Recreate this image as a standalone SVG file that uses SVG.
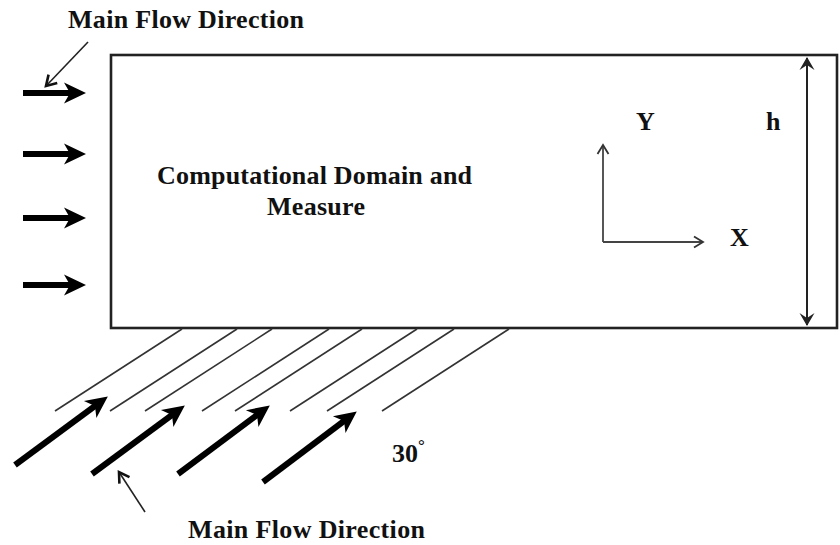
<svg xmlns="http://www.w3.org/2000/svg" width="840" height="545" viewBox="0 0 840 545">
<style>
text{font-family:"Liberation Serif","Times New Roman",serif;font-weight:bold;fill:#111}
.lbl{font-size:26px}
.thick{stroke:#000;stroke-width:6;fill:none}
.thin{stroke:#333;stroke-width:1.6;fill:none}
.ax{stroke:#444;stroke-width:1.8;fill:none}
</style>
<defs>
<marker id="mThick" markerUnits="userSpaceOnUse" viewBox="-14 -12 28 24" markerWidth="28" markerHeight="24" refX="0" refY="0" orient="auto" overflow="visible">
<path d="M11,0 L-11,-10.5 L-5,0 L-11,10.5 Z" fill="#000"/>
</marker>
<marker id="mOpen" markerUnits="userSpaceOnUse" viewBox="-12 -8 14 16" markerWidth="14" markerHeight="16" refX="0" refY="0" orient="auto" overflow="visible">
<path d="M-9,-5.5 L0,0 L-9,5.5" fill="none" stroke="#333" stroke-width="1.8"/>
</marker>
<marker id="mOpenBold" markerUnits="userSpaceOnUse" viewBox="-12 -8 14 16" markerWidth="14" markerHeight="16" refX="0" refY="0" orient="auto" overflow="visible">
<path d="M-10,-6 L0,0 L-10,6" fill="none" stroke="#111" stroke-width="2.6"/>
</marker>
<marker id="mDim" markerUnits="userSpaceOnUse" viewBox="-12 -9 14 18" markerWidth="14" markerHeight="18" refX="0" refY="0" orient="auto-start-reverse" overflow="visible">
<path d="M1,0 L-12,-7.5 L-7,0 L-12,7.5 Z" fill="#222"/>
</marker>
</defs>

<g id="domain">
<rect x="111" y="55" width="726" height="273" fill="#fff" stroke="#222" stroke-width="2.6"/>
<text class="lbl" x="157" y="184" textLength="315" lengthAdjust="spacing">Computational Domain and</text>
<text class="lbl" x="267" y="215" textLength="98" lengthAdjust="spacing">Measure</text>
</g>

<g id="axes">
<path class="ax" d="M603,242 L603,145" marker-end="url(#mOpen)"/>
<path class="ax" d="M603,242 L703,242" marker-end="url(#mOpen)"/>
<text class="lbl" x="636" y="130">Y</text>
<text class="lbl" x="730" y="246">X</text>
</g>

<g id="height-dim">
<path d="M807,58 L807,325" stroke="#222" stroke-width="2" fill="none" marker-start="url(#mDim)" marker-end="url(#mDim)"/>
<text class="lbl" x="766" y="130">h</text>
</g>

<g id="top-flow">
<text class="lbl" x="68" y="28" textLength="236" lengthAdjust="spacing">Main Flow Direction</text>
</g>

<g id="bottom-flow">
<text class="lbl" x="188" y="538" textLength="237" lengthAdjust="spacing">Main Flow Direction</text>
<text x="392" y="462" style="font-size:26px">30</text>
<text x="418" y="451" style="font-size:17px">°</text>
</g>

<g id="connectors">
<!-- left horizontal flow arrows -->
<path class="thick" d="M23,93 L75,93" marker-end="url(#mThick)"/>
<path class="thick" d="M23,154 L75,154" marker-end="url(#mThick)"/>
<path class="thick" d="M23,218 L75,218" marker-end="url(#mThick)"/>
<path class="thick" d="M23,285 L75,285" marker-end="url(#mThick)"/>
<!-- top pointer -->
<path d="M88,42 L46,86" stroke="#222" stroke-width="1.6" fill="none" marker-end="url(#mOpenBold)"/>
<!-- slanted thin lines -->
<path class="thin" d="M55,411 L182,329"/>
<path class="thin" d="M110,411 L237,329"/>
<path class="thin" d="M145,411 L272,329"/>
<path class="thin" d="M202,411 L329,329"/>
<path class="thin" d="M235,411 L362,329"/>
<path class="thin" d="M290,411 L417,329"/>
<path class="thin" d="M327,411 L454,329"/>
<path class="thin" d="M382,411 L509,329"/>
<!-- slanted thick flow arrows -->
<path class="thick" d="M15,465 L99,403" marker-end="url(#mThick)"/>
<path class="thick" d="M92,474 L176,412" marker-end="url(#mThick)"/>
<path class="thick" d="M178,474 L261,412" marker-end="url(#mThick)"/>
<path class="thick" d="M263,482 L348,418" marker-end="url(#mThick)"/>
<!-- bottom pointer -->
<path d="M145,512 L119,472" stroke="#222" stroke-width="1.6" fill="none" marker-end="url(#mOpenBold)"/>
</g>
</svg>
